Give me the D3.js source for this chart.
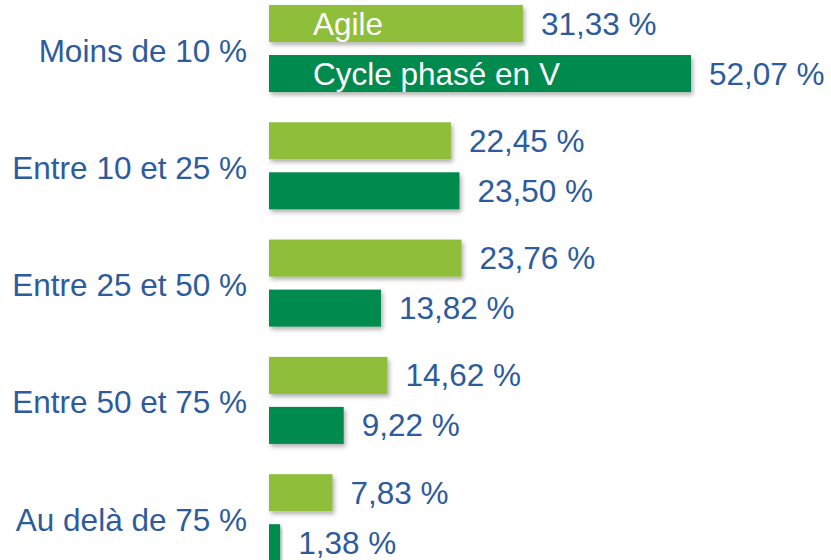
<!DOCTYPE html>
<html lang="fr">
<head>
  <meta charset="UTF-8">
  <title>Bar Chart</title>
  <script src="https://cdn.jsdelivr.net/npm/d3@7"></script>
  <style>
    body { margin: 0; background: #fff; }
    text { font-family: "Liberation Sans", Arial, sans-serif; }
    .cat, .val { fill: #2d5b9b; font-size: 31.5px; }
    .legend { fill: #fff; font-size: 31.5px; }
  </style>
</head>
<body>
<div class="chart"></div>
<script>
  const categories = ['Moins de 10 %', 'Entre 10 et 25 %', 'Entre 25 et 50 %', 'Entre 50 et 75 %', 'Au delà de 75 %'];
  const seriesNames = ['Agile', 'Cycle phasé en V'];
  const agile = [31.33, 22.45, 23.76, 14.62, 7.83];
  const cycleV = [52.07, 23.50, 13.82, 9.22, 1.38];
  const colors = ['#8fbe3a', '#008a4e'];

  const bxSize = {w: 831, h: 560};
  const svg = d3.select('.chart')
    .append('svg')
    .attr('width', bxSize.w).attr('height', bxSize.h);

  const defs = svg.append('defs');
  defs.append('filter').attr('id', 'shadow')
    .attr('x', '-10%').attr('y', '-20%').attr('width', '130%').attr('height', '160%')
    .append('feDropShadow')
    .attr('dx', 2).attr('dy', 3).attr('stdDeviation', 2)
    .attr('flood-color', '#000').attr('flood-opacity', 0.3);

  const x = d3.scaleLinear().domain([0, 52.07]).range([269, 691]);
  const y = d3.scaleBand().domain(categories).range([5, 561.2]).paddingInner(0.258).paddingOuter(0);
  const ySub = d3.scaleBand().domain(seriesNames).range([0, y.bandwidth()]).paddingInner(0.26);

  const fmt = v => d3.format('.2f')(v).replace('.', ',') + ' %';

  const data = categories.map((c, i) => ({
    cat: c,
    vals: [{s: seriesNames[0], v: agile[i]}, {s: seriesNames[1], v: cycleV[i]}]
  }));

  const group = svg.selectAll('g.group').data(data).enter().append('g')
    .attr('class', 'group')
    .attr('transform', d => `translate(0 ${y(d.cat)})`);

  group.append('text')
    .attr('class', 'cat')
    .attr('x', 247)
    .attr('y', y.bandwidth() / 2 + 2)
    .attr('dy', '0.35em')
    .style('text-anchor', 'end')
    .text(d => d.cat);

  group.selectAll('rect').data(d => d.vals).enter().append('rect')
    .attr('x', x(0))
    .attr('y', d => ySub(d.s))
    .attr('width', d => x(d.v) - x(0))
    .attr('height', ySub.bandwidth())
    .attr('fill', (d, i) => colors[i])
    .attr('filter', 'url(#shadow)');

  group.selectAll('text.val').data(d => d.vals).enter().append('text')
    .attr('class', 'val')
    .attr('x', d => x(d.v) + 18)
    .attr('y', d => ySub(d.s) + ySub.bandwidth() / 2)
    .attr('dy', '0.35em')
    .text(d => fmt(d.v));

  // legend inside first group's bars
  svg.append('g').selectAll('text').data(seriesNames).enter().append('text')
    .attr('class', 'legend')
    .attr('x', 313)
    .attr('y', d => y(categories[0]) + ySub(d) + ySub.bandwidth() / 2)
    .attr('dy', '0.35em')
    .text(d => d);
</script>
</body>
</html>
